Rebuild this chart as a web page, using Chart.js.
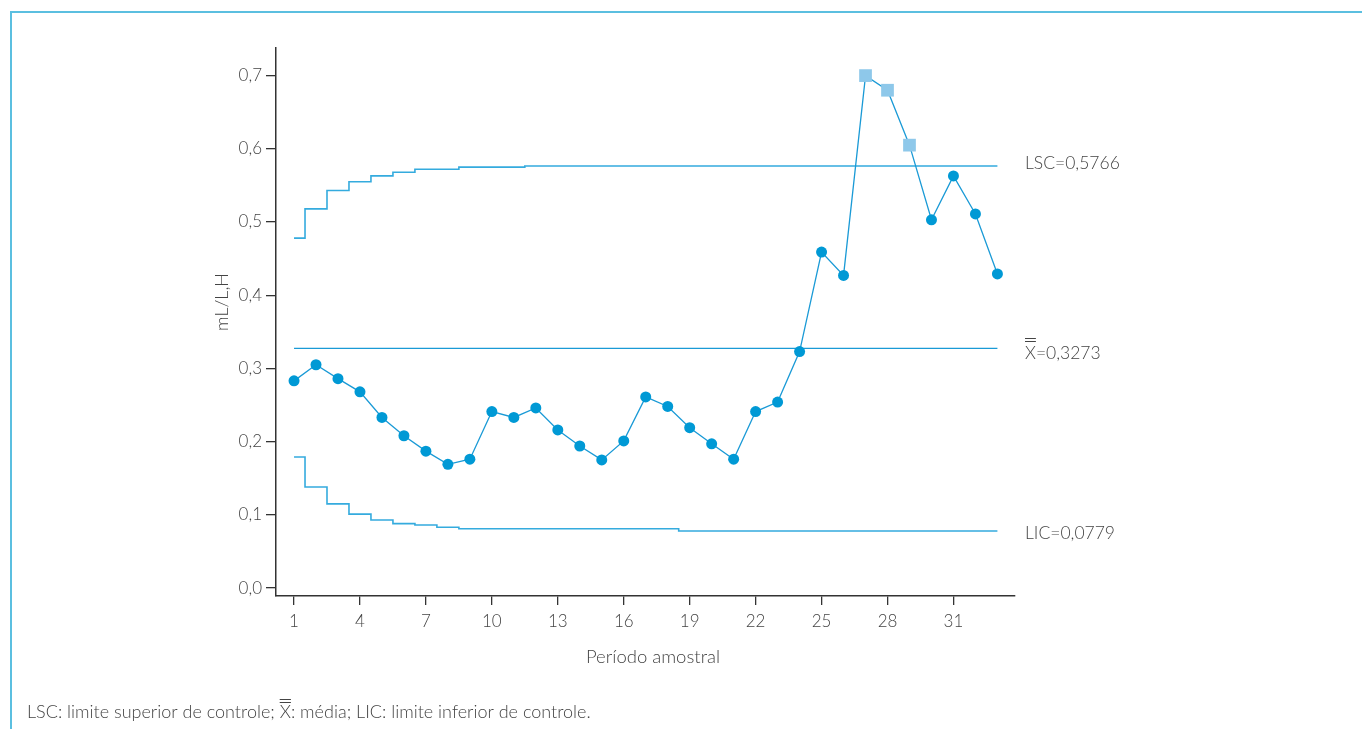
<!DOCTYPE html>
<html>
<head>
<meta charset="utf-8">
<script src="https://cdn.jsdelivr.net/npm/chart.js@4.4.1/dist/chart.umd.min.js"></script>
<style>
body { margin: 0; background: #fff; }
#wrap { position: relative; width: 1362px; height: 729px; overflow: hidden; }
#frame { position: absolute; left: 10px; top: 11px; right: -10px; bottom: -10px;
  border-left: 2px solid #5bbfe0; border-top: 2px solid #5bbfe0; }
canvas { position: absolute; left: 0; top: 0; }
</style>
</head>
<body>
<div id="wrap">
  <div id="frame"></div>
  <canvas id="myChart" width="1362" height="729"></canvas>
</div>
<script>
// periodo amostral (eixo x)
var periodos = [1,2,3,4,5,6,7,8,9,10,11,12,13,14,15,16,17,18,19,20,21,22,23,24,25,26,27,28,29,30,31,32,33];
// valores (mL/L,H)
var amostras = [0.283,0.305,0.286,0.268,0.233,0.208,0.187,0.169,0.176,0.241,0.233,0.246,0.216,0.194,0.175,0.201,
                0.261,0.248,0.219,0.197,0.176,0.241,0.254,0.323,0.459,0.427,0.700,0.680,0.605,0.503,0.563,0.511,0.429];
// limite superior de controle
var lsc = [0.478,0.518,0.543,0.555,0.563,0.568,0.572,0.572,0.575,0.575,0.575,
           0.5766,0.5766,0.5766,0.5766,0.5766,0.5766,0.5766,0.5766,0.5766,0.5766,0.5766,
           0.5766,0.5766,0.5766,0.5766,0.5766,0.5766,0.5766,0.5766,0.5766,0.5766,0.5766];
// limite inferior de controle
var lic = [0.179,0.138,0.115,0.101,0.093,0.088,0.086,0.083,0.081,0.081,0.081,0.081,0.081,0.081,0.081,0.081,0.081,0.081,
           0.0779,0.0779,0.0779,0.0779,0.0779,0.0779,0.0779,0.0779,0.0779,0.0779,0.0779,0.0779,0.0779,0.0779,0.0779];
var media = 0.3273;
// pontos fora de controle
var foraDeControle = [27, 28, 29];

var ticksX = [1,4,7,10,13,16,19,22,25,28,31];
var ticksY = [0,0.1,0.2,0.3,0.4,0.5,0.6,0.7];

var corLinha = '#1a9ad6';
var corLimite = '#34abde';
var corTexto = '#444';
var fonte = "Lato, 'Open Sans', sans-serif";

function pares(valores) {
    return periodos.map(function (p, i) { return {x: p, y: valores[i]}; });
}

function fora(p) {
    return foraDeControle.indexOf(p) >= 0;
}

// desenha X com duas barras em cima (media das medias)
function xBarraDupla(ctx, x, y, tam, afast, gap) {
    var w = ctx.measureText('X').width;
    ctx.fillText('X', x, y);
    ctx.save();
    ctx.strokeStyle = corTexto;
    ctx.lineWidth = 1;
    var topoX = y - tam * 0.36;
    var b1 = Math.round(topoX - afast) + 0.5;
    var b2 = Math.round(topoX - afast - gap) + 0.5;
    ctx.beginPath();
    ctx.moveTo(x, b1); ctx.lineTo(x + w, b1);
    ctx.moveTo(x, b2); ctx.lineTo(x + w, b2);
    ctx.stroke();
    ctx.restore();
    return w;
}

var textos = {
    id: 'textos',
    afterDraw: function (chart) {
        var ctx = chart.ctx;
        var sy = chart.scales.y;
        var area = chart.chartArea;
        ctx.save();
        ctx.fillStyle = corTexto;
        ctx.textBaseline = 'middle';
        ctx.textAlign = 'left';
        ctx.font = '300 17.5px ' + fonte;

        var xl = area.right + 10;
        ctx.fillText('LSC=0,5766', xl, sy.getPixelForValue(lsc[lsc.length - 1]) - 3);
        var ym = sy.getPixelForValue(media) + 5;
        var w = xBarraDupla(ctx, xl, ym, 17.5, 6, 3.3);
        ctx.fillText('=0,3273', xl + w, ym);
        ctx.fillText('LIC=0,0779', xl, sy.getPixelForValue(lic[lic.length - 1]) + 2);

        // titulos dos eixos
        ctx.textAlign = 'center';
        ctx.font = '300 18.5px ' + fonte;
        ctx.fillText('Período amostral', 653, 657);
        ctx.save();
        ctx.translate(222, 302);
        ctx.rotate(-Math.PI / 2);
        ctx.font = '300 18px ' + fonte;
        ctx.fillText('mL/L,H', 0, 0);
        ctx.restore();

        // nota de rodape
        ctx.textAlign = 'left';
        ctx.font = '300 18px ' + fonte;
        var nx = 27, ny = 712;
        var t1 = 'LSC: limite superior de controle; ';
        ctx.fillText(t1, nx, ny);
        nx += ctx.measureText(t1).width;
        nx += xBarraDupla(ctx, nx, ny, 18, 4, 3);
        ctx.fillText(': média; LIC: limite inferior de controle.', nx, ny);
        ctx.restore();
    }
};

new Chart("myChart", {
    type: "line",
    data: {
        datasets: [{
            label: 'amostras',
            data: pares(amostras),
            borderColor: corLinha,
            borderWidth: 1.3,
            pointStyle: periodos.map(function (p) { return fora(p) ? 'rect' : 'circle'; }),
            pointRadius: periodos.map(function (p) { return fora(p) ? 9 : 5.5; }),
            pointBackgroundColor: periodos.map(function (p) { return fora(p) ? '#8ec8ea' : '#0099d5'; }),
            pointBorderWidth: 0,
            order: 0
        }, {
            label: 'LSC',
            data: pares(lsc),
            stepped: 'middle',
            borderColor: corLimite,
            borderWidth: 1.6,
            pointRadius: 0,
            order: 1
        }, {
            label: 'LIC',
            data: pares(lic),
            stepped: 'middle',
            borderColor: corLimite,
            borderWidth: 1.6,
            pointRadius: 0,
            order: 2
        }, {
            label: 'media',
            data: [{x: periodos[0], y: media}, {x: periodos[periodos.length - 1], y: media}],
            borderColor: corLinha,
            borderWidth: 1.3,
            pointRadius: 0,
            order: 3
        }]
    },
    options: {
        responsive: false,
        animation: false,
        layout: {padding: {top: 48, right: 347, left: 0, bottom: 0}},
        plugins: {legend: {display: false}, tooltip: {enabled: false}},
        scales: {
            x: {
                type: 'linear',
                min: 0.18,
                max: 33.8,
                afterBuildTicks: function (s) { s.ticks = ticksX.map(function (v) { return {value: v}; }); },
                afterFit: function (s) { s.height = 133; },
                grid: {drawOnChartArea: false, drawTicks: true, tickLength: 9, color: '#333', lineWidth: 1.3},
                border: {color: '#333', width: 1.5},
                ticks: {padding: 6, color: corTexto, maxRotation: 0, font: {family: fonte, size: 17, weight: 300}}
            },
            y: {
                min: -0.0109,
                max: 0.7377,
                afterBuildTicks: function (s) { s.ticks = ticksY.map(function (v) { return {value: v}; }); },
                afterFit: function (s) { s.width = 276; },
                grid: {drawOnChartArea: false, drawTicks: true, tickLength: 10, color: '#333', lineWidth: 1.3},
                border: {color: '#333', width: 1.5},
                ticks: {
                    padding: 4, color: corTexto, font: {family: fonte, size: 17, weight: 300},
                    callback: function (v) { return v.toFixed(1).replace('.', ','); }
                }
            }
        }
    },
    plugins: [textos]
});
</script>
</body>
</html>
